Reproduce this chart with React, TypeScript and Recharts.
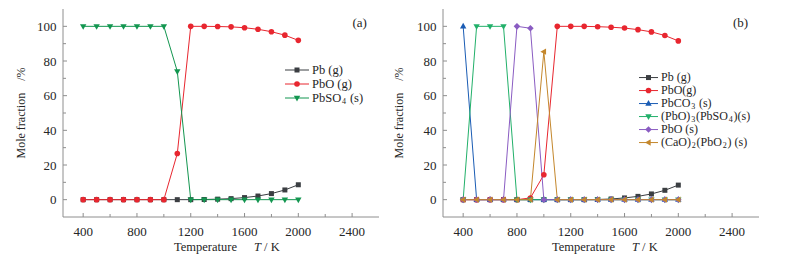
import React from 'react';
import { LineChart, Line, XAxis, YAxis } from 'recharts';

// temperatures, K
const temperatures = [400, 500, 600, 700, 800, 900, 1000, 1100, 1200, 1300, 1400, 1500, 1600, 1700, 1800, 1900, 2000];

// panel (a)
const pbGasA = [0, 0, 0, 0, 0, 0, 0, 0, 0, 0.1, 0.3, 0.6, 1.2, 2.1, 3.5, 5.6, 8.6];
const pboGasA = [0, 0, 0, 0, 0, 0, 0, 26.6, 100, 100, 99.9, 99.7, 99.2, 98.3, 96.9, 94.9, 91.9];
const pbso4A = [100, 100, 100, 100, 100, 100, 100, 74, 0, 0, 0, 0, 0, 0, 0, 0, 0];

// panel (b)
const pbGasB = [0, 0, 0, 0, 0, 0, 0, 0, 0, 0, 0.1, 0.4, 1.0, 1.9, 3.3, 5.4, 8.4];
const pboGasB = [0, 0, 0, 0, 0, 1.0, 14.4, 100, 100, 100, 99.8, 99.5, 99.0, 98.1, 96.8, 94.7, 91.6];
const pbco3B = [100, 0, 0, 0, 0, 0, 0, 0, 0, 0, 0, 0, 0, 0, 0, 0, 0];
const pbo3pbso4B = [0, 100, 100, 100, 0, 0, 0, 0, 0, 0, 0, 0, 0, 0, 0, 0, 0];
const pboSolidB = [0, 0, 0, 0, 100, 98.9, 0, 0, 0, 0, 0, 0, 0, 0, 0, 0, 0];
const cao2pbo2B = [0, 0, 0, 0, 0, 0, 85.4, 0, 0, 0, 0, 0, 0, 0, 0, 0, 0];

const xTicks = [400, 600, 800, 1000, 1200, 1400, 1600, 1800, 2000, 2200, 2400];
const yTicks = [0, 10, 20, 30, 40, 50, 60, 70, 80, 90, 100];

const FONT = "'Liberation Serif', 'Times New Roman', Times, serif";
const AXIS = '#8e8e8e';
const INK = '#262626';

type Shape = 'square' | 'circle' | 'up' | 'down' | 'diamond' | 'left';

interface Series {
  key: string;
  label: React.ReactNode;
  color: string;
  shape: Shape;
  values: number[];
}

const Sub = ({ children }: { children: React.ReactNode }) => (
  <span style={{ fontSize: 8, position: 'relative', top: 2, lineHeight: '8px', margin: '0 0.8px' }}>{children}</span>
);

const seriesA: Series[] = [
  { key: 'pbGas', label: 'Pb (g)', color: '#3b3e42', shape: 'square', values: pbGasA },
  { key: 'pboGas', label: 'PbO (g)', color: '#e8262f', shape: 'circle', values: pboGasA },
  { key: 'pbso4', label: <>PbSO<Sub>4</Sub> (s)</>, color: '#139650', shape: 'down', values: pbso4A }
];

const seriesB: Series[] = [
  { key: 'pbGas', label: 'Pb (g)', color: '#3b3e42', shape: 'square', values: pbGasB },
  { key: 'pboGas', label: 'PbO(g)', color: '#e8262f', shape: 'circle', values: pboGasB },
  { key: 'pbco3', label: <>PbCO<Sub>3</Sub> (s)</>, color: '#1a5cb4', shape: 'up', values: pbco3B },
  { key: 'pbo3pbso4', label: <>(PbO)<Sub>3</Sub>(PbSO<Sub>4</Sub>)(s)</>, color: '#22b06a', shape: 'down', values: pbo3pbso4B },
  { key: 'pboSolid', label: 'PbO (s)', color: '#8a5cc2', shape: 'diamond', values: pboSolidB },
  { key: 'cao2pbo2', label: <>(CaO)<Sub>2</Sub>(PbO<Sub>2</Sub>) (s)</>, color: '#c4872c', shape: 'left', values: cao2pbo2B }
];

function Marker({ cx, cy, shape, color }: { cx: number; cy: number; shape: Shape; color: string }) {
  if (cx == null || cy == null) return null;
  switch (shape) {
    case 'square':
      return <rect x={cx - 2.5} y={cy - 2.5} width={5} height={5} fill={color} />;
    case 'circle':
      return <circle cx={cx} cy={cy} r={2.8} fill={color} />;
    case 'up':
      return <polygon points={`${cx},${cy - 3.5} ${cx - 3.2},${cy + 2.2} ${cx + 3.2},${cy + 2.2}`} fill={color} />;
    case 'down':
      return <polygon points={`${cx},${cy + 3.5} ${cx - 3.2},${cy - 2.2} ${cx + 3.2},${cy - 2.2}`} fill={color} />;
    case 'diamond':
      return <polygon points={`${cx},${cy - 3.3} ${cx + 3.3},${cy} ${cx},${cy + 3.3} ${cx - 3.3},${cy}`} fill={color} />;
    case 'left':
      return <polygon points={`${cx - 3.5},${cy} ${cx + 2.2},${cy - 3.2} ${cx + 2.2},${cy + 3.2}`} fill={color} />;
  }
  return null;
}

const XTick = (props: any) => {
  const { x, y, payload } = props;
  const major = payload.value % 400 === 0;
  return (
    <g>
      <line x1={x} x2={x} y1={y} y2={y - (major ? 4 : 3)} stroke={AXIS} />
      {major && (
        <text x={x} y={y + 18.5} textAnchor="middle" fontFamily={FONT} fontSize={13} fill={INK}>
          {payload.value}
        </text>
      )}
    </g>
  );
};

const YTick = (props: any) => {
  const { x, y, payload } = props;
  const major = payload.value % 20 === 0;
  return (
    <g>
      <line x1={x} x2={x + (major ? 4 : 3)} y1={y} y2={y} stroke={AXIS} />
      {major && (
        <text x={x - 6.5} y={y + 4.5} textAnchor="end" fontFamily={FONT} fontSize={13} fill={INK}>
          {payload.value}
        </text>
      )}
    </g>
  );
};

function LegendBox({ series, left, top, rowHeight, lineWidth, fontSize }: { series: Series[]; left: number; top: number; rowHeight: number; lineWidth: number; fontSize: number }) {
  return (
    <div style={{ position: 'absolute', left, top, fontFamily: FONT, fontSize, lineHeight: `${rowHeight}px`, color: INK }}>
      {series.map(s => (
        <div key={s.key} style={{ height: rowHeight, display: 'flex', alignItems: 'center', whiteSpace: 'nowrap' }}>
          <svg width={lineWidth} height={rowHeight} style={{ marginRight: 3, flex: 'none' }}>
            <line x1={0} x2={lineWidth} y1={rowHeight / 2} y2={rowHeight / 2} stroke={s.color} strokeWidth={1} />
            <Marker cx={lineWidth / 2} cy={rowHeight / 2} shape={s.shape} color={s.color} />
          </svg>
          <span style={{ lineHeight: `${rowHeight}px` }}>{s.label}</span>
        </div>
      ))}
    </div>
  );
}

function Panel({ series, marginLeft, marginRight, width }: { series: Series[]; marginLeft: number; marginRight: number; width: number }) {
  const data = temperatures.map((t, i) => {
    const row: Record<string, number> = { t };
    series.forEach(s => {
      row[s.key] = s.values[i];
    });
    return row;
  });

  return (
    <LineChart width={width} height={257} data={data} margin={{ top: 9, right: marginRight, bottom: 10, left: marginLeft }}>
      <XAxis
        dataKey="t"
        type="number"
        domain={[250, 2600]}
        ticks={xTicks}
        interval={0}
        height={30}
        tickSize={0}
        tickMargin={0}
        tickLine={false}
        axisLine={{ stroke: AXIS }}
        tick={<XTick />}
      />
      <XAxis xAxisId="top" orientation="top" type="number" domain={[250, 2600]} height={0} tick={false} tickLine={false} axisLine={{ stroke: AXIS }} />
      <YAxis
        type="number"
        domain={[-10, 110]}
        ticks={yTicks}
        interval={0}
        width={40}
        tickSize={0}
        tickMargin={0}
        tickLine={false}
        axisLine={{ stroke: AXIS }}
        tick={<YTick />}
      />
      <YAxis yAxisId="right" orientation="right" type="number" domain={[-10, 110]} width={0} tick={false} tickLine={false} axisLine={{ stroke: AXIS }} />
      {series.map(s => (
        <Line
          key={s.key}
          type="linear"
          dataKey={s.key}
          stroke={s.color}
          strokeWidth={1}
          isAnimationActive={false}
          dot={(p: any) => <Marker key={`${s.key}-${p.index}`} cx={p.cx} cy={p.cy} shape={s.shape} color={s.color} />}
          activeDot={false}
        />
      ))}
    </LineChart>
  );
}

function AxisTitles({ dx }: { dx: number }) {
  return (
    <>
      <text transform={`translate(${25 + dx}, 113) rotate(-90)`} textAnchor="middle" fontFamily={FONT} fontSize={12} fill={INK}>
        Mole fraction<tspan dx={12}>/%</tspan>
      </text>
      <text x={174 + dx} y={251} fontFamily={FONT} fontSize={12.5} fill={INK}>
        Temperature
        <tspan dx={17} fontStyle="italic">T</tspan>
        <tspan> / K</tspan>
      </text>
    </>
  );
}

export default function App() {
  return (
    <div style={{ position: 'absolute', left: 0, top: 0, width: 801, height: 257, background: '#fff' }}>
      <div style={{ position: 'absolute', left: 0, top: 0 }}>
        <Panel series={seriesA} marginLeft={23} marginRight={21} width={400} />
      </div>
      <div style={{ position: 'absolute', left: 400, top: 0 }}>
        <Panel series={seriesB} marginLeft={3} marginRight={42} width={401} />
      </div>
      <svg width={801} height={257} style={{ position: 'absolute', left: 0, top: 0, pointerEvents: 'none' }}>
        <AxisTitles dx={0} />
        <AxisTitles dx={378} />
        <text x={352.5} y={27} fontFamily={FONT} fontSize={13} fill={INK}>(a)</text>
        <text x={733} y={27} fontFamily={FONT} fontSize={13} fill={INK}>(b)</text>
      </svg>
      <LegendBox series={seriesA} left={285} top={63} rowHeight={14} lineWidth={24} fontSize={12.5} />
      <LegendBox series={seriesB} left={639} top={71} rowHeight={13.1} lineWidth={19} fontSize={12} />
    </div>
  );
}
